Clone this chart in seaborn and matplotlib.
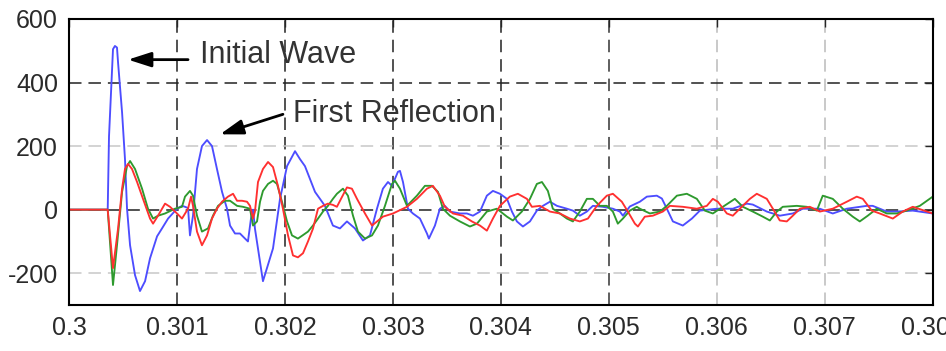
import numpy as np
import pandas as pd
import seaborn as sns
import matplotlib
matplotlib.use("Agg")
import matplotlib.pyplot as plt

# time after 0.3 s in microseconds, amplitude
blue_us = [0, 358, 370, 407, 425, 444, 454, 491, 518, 537, 565, 611, 657, 704, 750, 815, 861, 917,
           1000, 1046, 1074, 1102, 1120, 1148, 1185, 1231, 1278, 1324, 1370, 1417, 1463, 1491, 1537,
           1583, 1630, 1657, 1685, 1704, 1722, 1796, 1889, 1954, 2019, 2093, 2139, 2185, 2231, 2278,
           2324, 2370, 2444, 2509, 2574, 2648, 2722, 2787, 2852, 2907, 2954, 2991, 3046, 3065, 3093,
           3139, 3185, 3250, 3315, 3333, 3389, 3435, 3481, 3528, 3620, 3685, 3741, 3806, 3870, 3926,
           3991, 4056, 4102, 4148, 4204, 4269, 4333, 4389, 4454, 4519, 4611, 4667, 4731, 4796, 4852,
           4944, 5037, 5102, 5130, 5194, 5287, 5352, 5444, 5491, 5537, 5593, 5685, 5769, 5843, 6000,
           6148, 6278, 6333, 6463, 6583, 6704, 6796, 6954, 7074, 7204, 7389, 7444, 7574, 7667, 7815, 8000]
blue_amp = [0, 0, 230, 505, 515, 510, 462, 306, 159, 3, -112, -206, -256, -225, -153, -84, -59, -28,
            3, 12, 9, 5, -81, -19, 128, 200, 219, 200, 128, 56, 3, -50, -75,
            -75, -91, -100, -28, 0, -60, -225, -122, 34, 137, 184, 159, 137, 97, 56,
            34, 12, -50, -59, -37, -59, -97, -81, 3, 66, 87, 75, 119, 122, 87,
            3, -12, -28, -75, -91, -50, 3, 12, -6, -12, -12, -19, -6, 44, 59,
            50, 34, -6, -37, -53, -37, -3, 12, 25, 12, 3, -3, -19, -6, 12,
            9, 3, -6, -19, 10, 25, 41, 44, 35, 3, -37, -50, -28, -3, 3,
            3, 19, 16, -6, -19, -12, 3, 3, -12, 3, 12, 12, -6, -6, -3, -12]

red_us = [0, 358, 407, 454, 491, 518, 546, 583, 630, 685, 750, 778, 824, 889, 935, 1000, 1046, 1102,
          1130, 1148, 1185, 1231, 1278, 1324, 1370, 1417, 1472, 1519, 1556, 1602, 1648, 1676, 1704,
          1722, 1750, 1796, 1843, 1889, 1935, 1981, 2028, 2074, 2120, 2167, 2213, 2259, 2306, 2352,
          2398, 2444, 2481, 2528, 2574, 2620, 2667, 2741, 2806, 2907, 3000, 3130, 3222, 3315, 3370,
          3435, 3481, 3556, 3648, 3731, 3806, 3870, 3926, 3991, 4083, 4157, 4241, 4287, 4361, 4454,
          4546, 4639, 4731, 4806, 4889, 4981, 5037, 5120, 5176, 5241, 5269, 5333, 5407, 5500, 5565,
          5685, 5815, 5907, 5963, 6009, 6093, 6148, 6213, 6306, 6370, 6463, 6519, 6583, 6648, 6704,
          6769, 6861, 6954, 7074, 7204, 7296, 7352, 7435, 7509, 7630, 7722, 7815, 8000]
red_amp = [0, 0, -184, -59, 66, 128, 144, 128, 87, 34, -28, -44, -19, 19, 9, -12, -28, 3,
           41, 12, -69, -112, -81, -28, 3, 25, 41, 50, 28, 28, 25, 12, -28,
           -6, 87, 128, 150, 134, 75, 3, -81, -144, -150, -137, -100, -60, 3, 12,
           19, 15, 9, 40, 70, 66, 34, -12, -50, -22, -12, 9, 34, 66, 75,
           44, 9, -12, -19, -37, -50, -66, -28, 12, 41, 50, 34, 9, 12, -6,
           -12, -28, -37, -28, 12, 44, 50, 25, -6, -44, -53, -22, -19, -6, 12,
           9, 3, 12, 34, 25, -12, -19, 3, 34, 50, 34, 3, -34, -37, -19,
           3, 9, -6, 3, 25, 41, 34, -3, -12, -28, -6, 9, -12]

green_us = [0, 358, 407, 444, 491, 537, 565, 611, 676, 731, 778, 824, 889, 981, 1046, 1074, 1120,
            1148, 1185, 1231, 1287, 1333, 1380, 1444, 1491, 1556, 1611, 1676, 1704, 1741, 1769, 1796,
            1843, 1889, 1926, 1972, 2019, 2065, 2120, 2167, 2213, 2259, 2306, 2352, 2398, 2444, 2481,
            2537, 2583, 2630, 2676, 2741, 2806, 2861, 2926, 2991, 3019, 3065, 3130, 3222, 3296, 3361,
            3417, 3463, 3528, 3620, 3713, 3778, 3870, 3963, 4056, 4111, 4194, 4269, 4333, 4380, 4435,
            4481, 4546, 4611, 4667, 4731, 4796, 4852, 4917, 4981, 5037, 5083, 5130, 5194, 5259, 5287,
            5380, 5472, 5537, 5630, 5722, 5815, 5889, 5963, 6056, 6167, 6241, 6333, 6426, 6491, 6556,
            6611, 6741, 6833, 6926, 6981, 7074, 7167, 7259, 7324, 7398, 7481, 7574, 7667, 7759, 7880, 8000]
green_amp = [0, 0, -237, -112, 56, 137, 153, 128, 66, 3, -28, -19, -12, 3, 9, 41, 59,
             44, -19, -69, -59, -19, 12, 28, 28, 12, 9, 3, -50, -37, 25, 59,
             81, 91, 81, 25, -37, -81, -91, -80, -69, -50, -28, -6, 12, 34, 50,
             66, 44, -19, -69, -91, -81, -50, 12, 81, 91, 66, 12, 44, 75, 75,
             56, 3, -19, -37, -53, -44, -6, 3, -22, -34, -6, 34, 81, 87, 59,
             3, -12, -28, -37, -6, 34, 34, 12, 12, -6, -44, -28, -3, 9, 3,
             -12, -6, 12, 44, 50, 34, -3, -12, 9, 34, 9, -6, -22, -34, -6,
             9, 12, 9, -3, 44, 34, 3, -22, -37, -19, 3, -12, -12, -3, 12, 41]

x_ticks = [0.3, 0.301, 0.302, 0.303, 0.304, 0.305, 0.306, 0.307, 0.308]
x_labels = ["0.3", "0.301", "0.302", "0.303", "0.304", "0.305", "0.306", "0.307", "0.308"]
y_ticks = [-200, 0, 200, 400, 600]
y_labels = ["-200", "0", "200", "400", "600"]

frames = []
for name, us, amp in [("blue", blue_us, blue_amp), ("green", green_us, green_amp), ("red", red_us, red_amp)]:
    frames.append(pd.DataFrame({"t": 0.3 + np.array(us) * 1e-6, "amp": amp, "trace": name}))
df = pd.concat(frames, ignore_index=True)

sns.set_style("white")
plt.rcParams["font.family"] = ["Liberation Sans", "DejaVu Sans"]
plt.rcParams["axes.unicode_minus"] = False
plt.rcParams["lines.scale_dashes"] = False

fig = plt.figure(figsize=(9.46, 3.51), dpi=100)
ax = fig.add_axes([0.073, 0.131, 0.913, 0.815])

palette = {"blue": "#4d4dff", "green": "#2e9a2e", "red": "#ff3030"}
sns.lineplot(data=df, x="t", y="amp", hue="trace", palette=palette, estimator=None,
             sort=False, lw=1.35, legend=False, ax=ax)

ax.set_xlim(0.3, 0.308)
ax.set_ylim(-300, 600)
ax.set_xticks(x_ticks)
ax.set_xticklabels(x_labels)
ax.set_yticks(y_ticks)
ax.set_yticklabels(y_labels)
ax.set_xlabel("")
ax.set_ylabel("")
ax.tick_params(direction="in", length=6, width=1, top=True, right=True,
               labelsize=18, labelcolor="#2a2a2a", pad=8)

ax.grid(True, linestyle=(0, (9, 5)), lw=1.1)
xcols = ["#222", "#222", "#222", "#222", "#222", "#333", "#bbb", "#bbb", "#bbb"]
for gl, c in zip(ax.get_xgridlines(), xcols):
    gl.set_color(c)
ycols = ["#c8c8c8", "#222", "#c8c8c8", "#222", "#222"]
for gl, c in zip(ax.get_ygridlines(), ycols):
    gl.set_color(c)

for s in ax.spines.values():
    s.set_color("black")
    s.set_linewidth(1.5)

arrow = dict(arrowstyle="-|>,head_length=1.4,head_width=0.45", color="black", lw=2,
             shrinkA=0, shrinkB=0)
ax.annotate("", xy=(0.300546, 472), xytext=(0.301102, 472), arrowprops=arrow)
ax.text(0.301213, 487, "Initial Wave", fontsize=22, color="#333", va="center")
ax.annotate("", xy=(0.301398, 237), xytext=(0.301981, 300), arrowprops=arrow)
ax.text(0.302074, 300, "First Reflection", fontsize=22, color="#333", va="center")

fig.savefig("out.png", dpi=100)
